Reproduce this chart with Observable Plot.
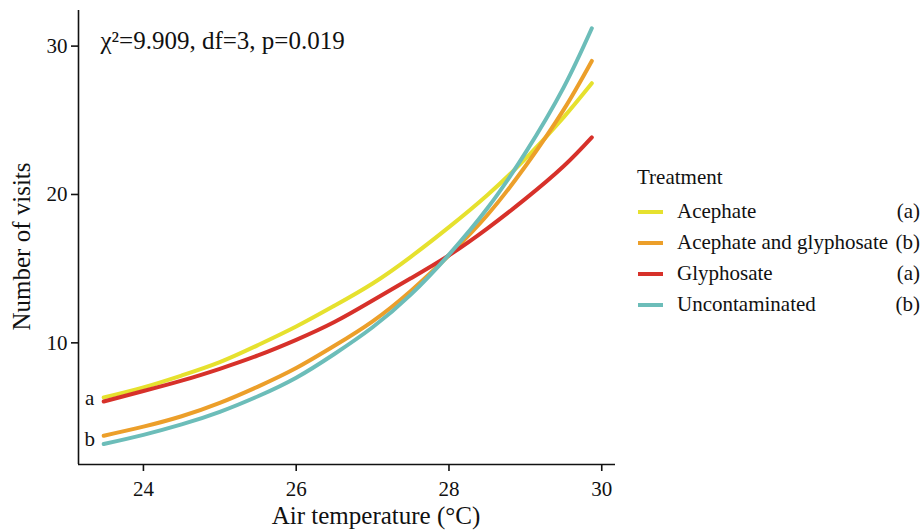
<!DOCTYPE html>
<html>
<head>
<meta charset="utf-8">
<script src="https://cdn.jsdelivr.net/npm/d3@7"></script>
<script src="https://cdn.jsdelivr.net/npm/@observablehq/plot@0.6"></script>
<style>
  body { margin: 0; background: #fff; font-family: "Liberation Serif", "Times New Roman", serif; }
  #wrap { position: relative; width: 922px; height: 530px; }
  #legend { position: absolute; left: 637px; top: 164px; width: 285px; color: #111; font-size: 21px; }
  #legend .title { margin-bottom: 6px; line-height: 26px; }
  #legend .row { position: relative; height: 31px; line-height: 31px; }
  #legend .sw { position: absolute; left: 1px; top: 14px; width: 25px; height: 4px; }
  #legend .lab { position: absolute; left: 40px; }
  #legend .let { position: absolute; right: 2px; }
</style>
</head>
<body>
<div id="wrap"><div id="chart"></div><div id="legend"></div></div>
<script>
// ---- data ----
const temps = [23.48, 24.0, 24.5, 25.0, 25.5, 26.0, 26.5, 27.0, 27.5, 28.0, 28.5, 29.0, 29.5, 29.87];
const acephate           = [6.32, 7.0, 7.8, 8.7, 9.85, 11.1, 12.5, 14.0, 15.8, 17.8, 19.95, 22.4, 25.2, 27.5];
const acephateGlyphosate = [3.74, 4.35, 5.05, 5.95, 7.05, 8.3, 9.8, 11.45, 13.5, 15.9, 18.6, 21.9, 25.7, 29.0];
const glyphosate         = [6.05, 6.75, 7.45, 8.25, 9.15, 10.2, 11.4, 12.85, 14.35, 15.9, 17.7, 19.7, 21.9, 23.85];
const uncontaminated     = [3.18, 3.8, 4.5, 5.35, 6.4, 7.65, 9.25, 11.05, 13.25, 15.95, 19.05, 22.8, 27.2, 31.2];
const treatments = ["Acephate", "Acephate and glyphosate", "Glyphosate", "Uncontaminated"];
const groupLetters = ["(a)", "(b)", "(a)", "(b)"];
const xTicks = [24, 26, 28, 30];
const yTicks = [10, 20, 30];
const statText = "\u03C7\u00B2=9.909, df=3, p=0.019";

const palette = ["#E6E12E", "#EC9F2A", "#D7312A", "#6CBDB9"];

const seriesValues = [acephate, acephateGlyphosate, glyphosate, uncontaminated];
const rows = [];
treatments.forEach((t, i) => temps.forEach((x, j) => rows.push({treatment: t, temp: x, visits: seriesValues[i][j]})));

// letter labels at start of curves: "a" for Acephate/Glyphosate group, "b" for the other
const startLabels = [
  {label: "a", temp: temps[0], visits: (acephate[0] + glyphosate[0]) / 2},
  {label: "b", temp: temps[0], visits: (acephateGlyphosate[0] + uncontaminated[0]) / 2}
];

const xDomain = [23.15, 30.18];
const yDomain = [1.8, 32.4];
const font = "Liberation Serif, Times New Roman, serif";

const plot = Plot.plot({
  width: 625,
  height: 530,
  marginLeft: 78,
  marginRight: 10,
  marginTop: 10,
  marginBottom: 66,
  style: {fontFamily: font, fontSize: "20px", color: "#111", background: "white", overflow: "visible"},
  x: {domain: xDomain},
  y: {domain: yDomain},
  color: {domain: treatments, range: palette},
  marks: [
    Plot.ruleX([xDomain[0]], {stroke: "#111", strokeWidth: 1.6}),
    Plot.ruleY([yDomain[0]], {stroke: "#111", strokeWidth: 1.6}),
    Plot.axisX(xTicks, {tickSize: 7, tickPadding: 10, fontSize: 21, strokeWidth: 1.6, label: null}),
    Plot.axisY(yTicks, {tickSize: 7, tickPadding: 4, fontSize: 21, strokeWidth: 1.6, label: null}),
    Plot.text(["Air temperature (\u00B0C)"], {frameAnchor: "bottom", dx: 29, dy: 59, fontSize: 25, fill: "#111"}),
    Plot.text(["Number of visits"], {frameAnchor: "left", textAnchor: "middle", dx: -57, dy: 9, rotate: -90, fontSize: 25, fill: "#111"}),
    Plot.line(rows, {x: "temp", y: "visits", stroke: "treatment", strokeWidth: 4, curve: "natural", strokeLinecap: "round"}),
    Plot.text(startLabels, {x: "temp", y: "visits", text: "label", dx: -14, dy: -1, fontSize: 21, fill: "#111"}),
    Plot.text([statText], {frameAnchor: "top-left", dx: 22, dy: 21, fontSize: 25, textAnchor: "start", fill: "#111"})
  ]
});
document.getElementById("chart").appendChild(plot);

// legend
const legend = d3.select("#legend");
legend.append("div").attr("class", "title").text("Treatment");
treatments.forEach((t, i) => {
  const row = legend.append("div").attr("class", "row");
  row.append("div").attr("class", "sw").style("background", palette[i]);
  row.append("span").attr("class", "lab").text(t);
  row.append("span").attr("class", "let").text(groupLetters[i]);
});
</script>
</body>
</html>
